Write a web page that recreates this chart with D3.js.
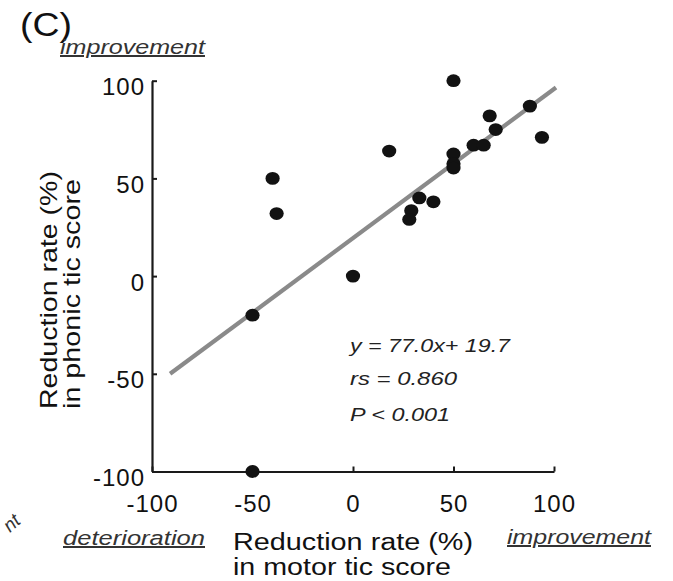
<!DOCTYPE html>
<html>
<head>
<meta charset="utf-8">
<script src="https://cdn.jsdelivr.net/npm/d3@7"></script>
<style>
  html, body { margin: 0; padding: 0; background: #fff; }
  svg { display: block; }
  text { font-family: "Liberation Sans", Arial, Helvetica, sans-serif; }
</style>
</head>
<body>
<svg id="chart" width="673" height="581"></svg>
<script>
// ---- data ----
const motorReduction  = [50, 88, 68, 71, 94, 18, 60, 65, 50, 50, 50, -40, -38, 33, 40, 29, 28, 0, -50, -50];
const phonicReduction = [100, 87, 82, 75, 71, 64, 67, 67, 62.5, 57.5, 55.3, 50, 32, 40, 38, 33.5, 29, 0, -20, -100];
const fitX = [-91, 101];
const fitY = [-50, 96.5];
const xTicks = [-100, -50, 0, 50, 100];
const yTicks = [-100, -50, 0, 50, 100];
const xTickLabels = ["-100", "-50", "0", "50", "100"];
const yTickLabels = ["-100", "-50", "0", "50", "100"];
const statLines = ["y = 77.0x+ 19.7", "rs = 0.860", "P < 0.001"];

const svg = d3.select("#chart");

const x = d3.scaleLinear().domain([-100, 100]).range([152, 554]);
const y = d3.scaleLinear().domain([-100, 100]).range([471.5, 80.7]);

// axes
const xAxis = d3.axisBottom(x).tickValues(xTicks)
  .tickFormat((d, i) => xTickLabels[i]).tickSize(-5).tickSizeOuter(0);
const yAxis = d3.axisLeft(y).tickValues(yTicks)
  .tickFormat((d, i) => yTickLabels[i]).tickSize(-5).tickSizeOuter(0);

const gx = svg.append("g").attr("transform", `translate(0,${y(-100)})`).call(xAxis);
const gy = svg.append("g").attr("transform", `translate(${x(-100)},0)`).call(yAxis);

[gx, gy].forEach(g => {
  g.select(".domain").attr("stroke", "#1a1a1a").attr("stroke-width", 2.2);
  g.selectAll(".tick line").attr("stroke", "#1a1a1a").attr("stroke-width", 2);
  g.selectAll(".tick text")
    .attr("fill", "#111")
    .style("font-size", "24px")
    .style("letter-spacing", "1px");
});
gx.selectAll(".tick text").attr("y", 40.5).attr("dy", 0);
gy.selectAll(".tick text").attr("x", -7).attr("y", 14).attr("dy", 0);

// regression line
svg.append("line")
  .attr("x1", x(fitX[0])).attr("y1", y(fitY[0]))
  .attr("x2", x(fitX[1])).attr("y2", y(fitY[1]))
  .attr("stroke", "#8a8a8a").attr("stroke-width", 4.2);

// points
svg.append("g").selectAll("ellipse")
  .data(motorReduction.map((m, i) => [m, phonicReduction[i]]))
  .join("ellipse")
  .attr("cx", d => x(d[0])).attr("cy", d => y(d[1]))
  .attr("rx", 7.1).attr("ry", 6.4)
  .attr("fill", "#121212");

// stats text
const statLens = [160, 107, 100];
const statBase = [352, 385, 421];
statLines.forEach((t, i) => {
  svg.append("text")
    .attr("x", 350).attr("y", statBase[i])
    .attr("textLength", statLens[i]).attr("lengthAdjust", "spacingAndGlyphs")
    .style("font-size", "19px").style("font-style", "italic")
    .attr("fill", "#222").text(t);
});

// panel label
svg.append("text").attr("x", 20).attr("y", 36)
  .attr("textLength", 52).attr("lengthAdjust", "spacingAndGlyphs")
  .style("font-size", "33px").attr("fill", "#111").text("(C)");

// underlined italic direction labels
function dirLabel(txt, xx, yy, len) {
  svg.append("text").attr("x", xx).attr("y", yy)
    .attr("textLength", len).attr("lengthAdjust", "spacingAndGlyphs")
    .style("font-size", "20px").style("font-style", "italic")
    .style("text-decoration", "underline")
    .attr("fill", "#333").text(txt);
}
dirLabel("improvement", 60, 54, 145);
dirLabel("deterioration", 63, 545, 142);
dirLabel("improvement", 507, 544, 144);

// fragment of neighbouring panel
svg.append("text")
  .attr("transform", "translate(10,533) rotate(-42)")
  .style("font-size", "19px").style("font-style", "italic")
  .attr("fill", "#333").text("nt");

// x title
svg.append("text").attr("x", 233).attr("y", 550)
  .attr("textLength", 240).attr("lengthAdjust", "spacingAndGlyphs")
  .style("font-size", "23px").attr("fill", "#111").text("Reduction rate (%)");
svg.append("text").attr("x", 233).attr("y", 575)
  .attr("textLength", 218).attr("lengthAdjust", "spacingAndGlyphs")
  .style("font-size", "23px").attr("fill", "#111").text("in motor tic score");

// y title
const yt = svg.append("g").attr("transform", "translate(0,409) rotate(-90)");
yt.append("text").attr("x", 0).attr("y", 57)
  .attr("textLength", 238).attr("lengthAdjust", "spacingAndGlyphs")
  .style("font-size", "24px").attr("fill", "#111").text("Reduction rate (%)");
yt.append("text").attr("x", 0).attr("y", 80)
  .attr("textLength", 230).attr("lengthAdjust", "spacingAndGlyphs")
  .style("font-size", "24px").attr("fill", "#111").text("in phonic tic score");
</script>
</body>
</html>
